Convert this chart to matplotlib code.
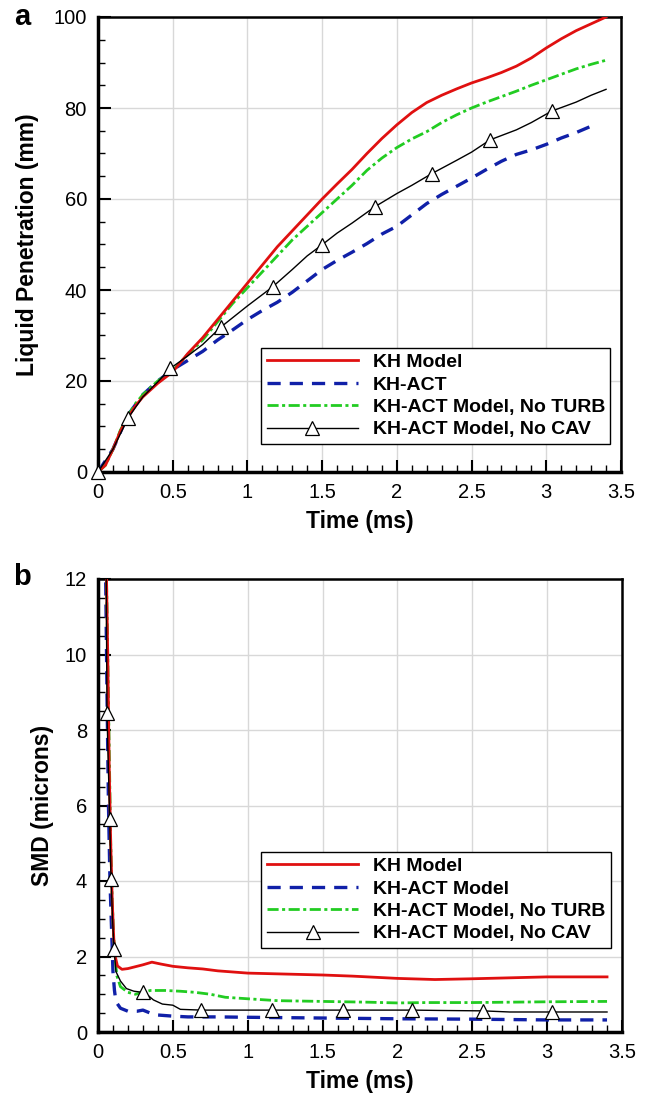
import numpy as np
import matplotlib
matplotlib.use("Agg")
import matplotlib.pyplot as plt
from matplotlib.ticker import MultipleLocator

plt.rcParams['font.family'] = ['Liberation Sans', 'DejaVu Sans']
plt.rcParams['lines.scale_dashes'] = False

# ---------------- Panel a: liquid penetration ----------------
a_kh_t = [0, 0.05, 0.1, 0.15, 0.2, 0.25, 0.3, 0.4, 0.5, 0.6, 0.7, 0.8, 0.9, 1.0, 1.1, 1.2,
          1.3, 1.4, 1.5, 1.6, 1.7, 1.8, 1.9, 2.0, 2.1, 2.2, 2.3, 2.4, 2.5, 2.6, 2.7, 2.8,
          2.9, 3.0, 3.1, 3.2, 3.3, 3.4]
a_kh_v = [0, 1.5, 5, 9, 12, 14.5, 16.5, 19.5, 22, 26, 29.5, 33.5, 37.5, 41.5, 45.5, 49.5,
          53, 56.5, 60, 63.3, 66.5, 70, 73.3, 76.3, 79, 81.2, 82.8, 84.2, 85.5, 86.6, 87.8, 89.2,
          91, 93.2, 95.2, 97, 98.5, 100]

a_act_t = [0, 0.1, 0.2, 0.3, 0.4, 0.5, 0.6, 0.7, 0.8, 0.9, 1.0, 1.1, 1.2, 1.3, 1.4, 1.5,
           1.6, 1.7, 1.8, 1.9, 2.0, 2.1, 2.2, 2.3, 2.4, 2.5, 2.6, 2.7, 2.8, 2.9, 3.0, 3.1,
           3.2, 3.3]
a_act_v = [0, 5, 12.5, 17, 20, 22.5, 24.5, 26.5, 29, 31.2, 33.5, 35.5, 37.3, 39.5, 42, 44.5,
           46.5, 48.3, 50.2, 52.3, 54, 56.5, 59, 61, 62.8, 64.6, 66.5, 68.3, 69.8, 70.8, 72, 73.4,
           74.6, 76]

a_turb_t = [0, 0.05, 0.1, 0.15, 0.2, 0.25, 0.3, 0.4, 0.5, 0.6, 0.7, 0.8, 0.9, 1.0, 1.1, 1.2,
            1.3, 1.4, 1.5, 1.6, 1.7, 1.8, 1.9, 2.0, 2.1, 2.2, 2.3, 2.4, 2.5, 2.6, 2.7, 2.8,
            2.9, 3.0, 3.1, 3.2, 3.3, 3.4]
a_turb_v = [0, 1.5, 5, 9.2, 12.3, 15, 17, 20, 22.3, 25.8, 29, 33, 37, 40.5, 44, 47.5,
            51, 54, 57, 60, 63, 66.3, 69, 71.3, 73.2, 74.8, 76.8, 78.5, 80, 81.3, 82.5, 83.7,
            85, 86.2, 87.4, 88.6, 89.6, 90.5]

a_cav_t = [0, 0.1, 0.2, 0.3, 0.4, 0.485, 0.6, 0.7, 0.824, 1.0, 1.169, 1.3, 1.4, 1.498, 1.6,
           1.7, 1.853, 2.0, 2.1, 2.235, 2.4, 2.5, 2.624, 2.8, 2.9, 3.035, 3.2, 3.3, 3.4]
a_cav_v = [0, 5, 11.8, 16.5, 19.8, 22.8, 25.5, 28, 31.9, 36.5, 40.7, 44.5, 47.5, 49.9, 52.5,
           54.7, 58.3, 61.2, 63, 65.6, 68.5, 70.3, 73, 75.2, 76.8, 79.3, 81.3, 82.8, 84.1]
a_cav_marker_t = [0, 0.2, 0.485, 0.824, 1.169, 1.498, 1.853, 2.235, 2.624, 3.035]

# ---------------- Panel b: SMD ----------------
b_kh_t = [0.055, 0.065, 0.075, 0.085, 0.095, 0.105, 0.115, 0.13, 0.16, 0.2, 0.25, 0.3, 0.36,
          0.42, 0.5, 0.6, 0.7, 0.8, 1.0, 1.2, 1.5, 1.7, 2.0, 2.25, 2.5, 2.8, 3.0, 3.4]
b_kh_v = [12.5, 10, 7, 5, 3.5, 2.5, 2.0, 1.75, 1.66, 1.68, 1.73, 1.78, 1.85,
          1.8, 1.74, 1.7, 1.67, 1.62, 1.56, 1.54, 1.51, 1.48, 1.42, 1.39, 1.41, 1.44, 1.46, 1.46]

b_act_t = [0.05, 0.06, 0.07, 0.08, 0.09, 0.1, 0.11, 0.12, 0.15, 0.2, 0.26, 0.3, 0.35, 0.4,
           0.5, 0.6, 0.8, 1.0, 1.5, 2.0, 2.5, 3.0, 3.4]
b_act_v = [12.5, 9, 6, 4, 2.8, 1.6, 1.1, 0.8, 0.63, 0.55, 0.55, 0.58, 0.5, 0.45,
           0.42, 0.4, 0.4, 0.39, 0.37, 0.35, 0.34, 0.32, 0.32]

b_turb_t = [0.055, 0.065, 0.075, 0.085, 0.095, 0.105, 0.115, 0.125, 0.15, 0.2, 0.25, 0.3, 0.35,
            0.45, 0.55, 0.65, 0.75, 0.85, 1.0, 1.2, 1.5, 1.8, 2.0, 2.2, 2.5, 3.0, 3.4]
b_turb_v = [12.5, 10, 7.5, 5, 3.5, 2.5, 2.0, 1.5, 1.2, 1.05, 1.0, 1.05, 1.1, 1.1,
            1.08, 1.05, 1.0, 0.92, 0.88, 0.83, 0.81, 0.79, 0.77, 0.78, 0.78, 0.8, 0.81]

b_cav_t = [0.055, 0.06, 0.078, 0.087, 0.097, 0.107, 0.12, 0.15, 0.19, 0.24, 0.30, 0.34, 0.37,
           0.43, 0.5, 0.55, 0.69, 0.9, 1.16, 1.4, 1.636, 1.9, 2.098, 2.3, 2.569, 2.75, 3.031, 3.4]
b_cav_v = [12.0, 8.45, 5.65, 4.05, 3.0, 2.2, 1.6, 1.35, 1.15, 1.08, 1.05, 0.95, 0.85,
           0.74, 0.71, 0.6, 0.58, 0.58, 0.58, 0.58, 0.58, 0.58, 0.58, 0.57, 0.56, 0.53, 0.53, 0.53]
b_cav_marker_t = [0.06, 0.078, 0.087, 0.107, 0.30, 0.69, 1.16, 1.636, 2.098, 2.569, 3.031]

labels_a = ["KH Model", "KH-ACT", "KH-ACT Model, No TURB", "KH-ACT Model, No CAV"]
labels_b = ["KH Model", "KH-ACT Model", "KH-ACT Model, No TURB", "KH-ACT Model, No CAV"]

RED = '#e01010'
BLUE = '#1020a8'
GREEN = '#22cc22'

fig = plt.figure(figsize=(6.53, 10.95), dpi=100)
W, H = 653, 1095
def axrect(l, r, t, b):
    return [l / W, 1 - b / H, (r - l) / W, (b - t) / H]

ax_a = fig.add_axes(axrect(98, 621, 17, 472))
ax_b = fig.add_axes(axrect(98, 622, 579, 1032))


def marker_idx(ts, mts):
    return [i for i, t in enumerate(ts) if any(abs(t - m) < 1e-9 for m in mts)]


def draw(ax, data, labels, marker_t):
    (kt, kv), (at, av), (tt, tv), (ct, cv) = data
    ax.plot(kt, kv, color=RED, lw=2.0, label=labels[0], zorder=4)
    ax.plot(at, av, color=BLUE, lw=2.4, dashes=(9.5, 6.5), label=labels[1], zorder=3)
    ax.plot(tt, tv, color=GREEN, lw=2.0, dashes=(8, 2.5, 2.2, 2.5), label=labels[2], zorder=3)
    ax.plot(ct, cv, color='black', lw=1.0, marker='^', markersize=10,
            markerfacecolor='white', markeredgecolor='black', markeredgewidth=0.9,
            markevery=marker_idx(ct, marker_t), label=labels[3], zorder=5, clip_on=False)
    ax.set_xlim(0, 3.5)
    ax.xaxis.set_minor_locator(MultipleLocator(0.1))
    ax.set_xticks([0, 0.5, 1, 1.5, 2, 2.5, 3, 3.5])
    ax.set_xticklabels(['0', '0.5', '1', '1.5', '2', '2.5', '3', '3.5'])
    ax.grid(True, which='major', color='#d8d8d8', lw=1.0, zorder=0)
    ax.set_axisbelow(True)
    ax.tick_params(which='both', direction='in', top=False, right=False,
                   labelsize=14.5, pad=8, width=1.5)
    ax.tick_params(which='major', length=9)
    ax.tick_params(which='minor', length=5, width=1.0)
    for s in ['left', 'bottom']:
        ax.spines[s].set_linewidth(2.5)
    for s in ['top', 'right']:
        ax.spines[s].set_linewidth(1.8)
    ax.set_xlabel('Time (ms)', fontsize=16.5, fontweight='bold')


draw(ax_a, [(a_kh_t, a_kh_v), (a_act_t, a_act_v), (a_turb_t, a_turb_v), (a_cav_t, a_cav_v)],
     labels_a, a_cav_marker_t)
ax_a.set_ylim(0, 100)
ax_a.yaxis.set_major_locator(MultipleLocator(20))
ax_a.yaxis.set_minor_locator(MultipleLocator(5))
ax_a.set_ylabel('Liquid Penetration (mm)', fontsize=16.5, fontweight='bold')
ax_a.yaxis.set_label_coords(-0.113, 0.5)
ax_a.xaxis.set_label_coords(0.5, -0.084)

draw(ax_b, [(b_kh_t, b_kh_v), (b_act_t, b_act_v), (b_turb_t, b_turb_v), (b_cav_t, b_cav_v)],
     labels_b, b_cav_marker_t)
ax_b.set_ylim(0, 12)
ax_b.yaxis.set_major_locator(MultipleLocator(2))
ax_b.yaxis.set_minor_locator(MultipleLocator(0.5))
ax_b.set_ylabel('SMD (microns)', fontsize=16.5, fontweight='bold')
ax_b.yaxis.set_label_coords(-0.084, 0.5)
ax_b.xaxis.set_label_coords(0.5, -0.084)

for ax, top in [(ax_a, (472 - 348) / 455), (ax_b, (1032 - 852) / 453)]:
    leg = ax.legend(loc='upper left', bbox_to_anchor=(0.312, top), frameon=True,
                    fancybox=False, shadow=False, framealpha=1, edgecolor='black',
                    prop={'weight': 'bold', 'size': 14}, handlelength=4.7,
                    handletextpad=0.75, borderpad=0.28, labelspacing=0.25,
                    borderaxespad=0, numpoints=1)
    leg.get_frame().set_linewidth(1.0)
    leg.set_zorder(10)

fig.text(22 / W, 1 - 17 / H, 'a', fontsize=21, fontweight='bold', ha='center', va='center')
fig.text(22 / W, 1 - 577 / H, 'b', fontsize=21, fontweight='bold', ha='center', va='center')

fig.savefig('out.png', dpi=100)
